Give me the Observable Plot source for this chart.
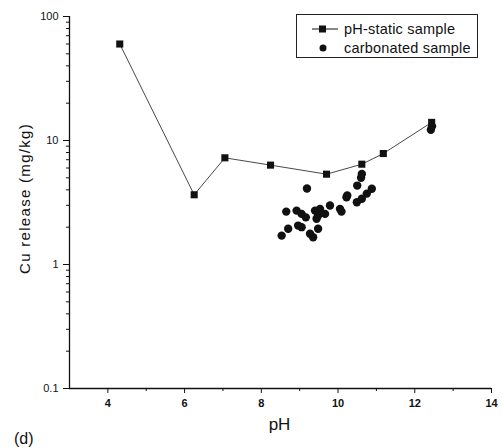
<!DOCTYPE html>
<html>
<head>
<meta charset="utf-8">
<script src="https://cdn.jsdelivr.net/npm/d3@7"></script>
<script src="https://cdn.jsdelivr.net/npm/@observablehq/plot@0.6"></script>
<style>
  html, body { margin: 0; padding: 0; background: #fff; }
  #wrap { position: relative; width: 502px; height: 448px; font-family: "Liberation Sans", Arial, sans-serif; }
  #legend { position: absolute; left: 296px; top: 14px; width: 182px; height: 44px; border: 1px solid #222; box-sizing: border-box; font-size: 14.5px; letter-spacing: 0.2px; color: #111; }
  #legend .row { position: absolute; left: 0; height: 16px; display: flex; align-items: center; }
  #legend svg { display: block; }
  #tag { position: absolute; left: 14px; top: 430px; font-size: 16px; color: #111; }
</style>
</head>
<body>
<div id="wrap">
  <div id="chart"></div>
  <div id="legend">
    <div class="row" style="top:6px;"><svg width="47" height="16"><line x1="15" x2="41" y1="8" y2="8" stroke="#111" stroke-width="1"/><rect x="22" y="4.5" width="7" height="7" fill="#111"/></svg><span>pH-static sample</span></div>
    <div class="row" style="top:25px;"><svg width="47" height="16"><circle cx="26" cy="8" r="3.5" fill="#111"/></svg><span>carbonated sample</span></div>
  </div>
  <div id="tag">(d)</div>
</div>
<script>
const staticPH = [4.31, 6.25, 7.05, 8.24, 9.70, 10.62, 11.18, 12.44];
const staticCu = [60, 3.65, 7.25, 6.33, 5.35, 6.44, 7.85, 14.0];

const carbPH = [9.19, 8.65, 8.92, 9.05, 9.16, 9.40, 9.48, 9.53, 9.44, 9.66, 9.79, 10.05, 10.09, 10.22,
                8.70, 8.53, 8.96, 9.05, 9.48, 9.27, 9.35,
                10.62, 10.60, 10.50, 10.24, 10.88, 10.75, 10.62, 10.49, 12.45, 12.42];
const carbCu = [4.1, 2.67, 2.72, 2.56, 2.40, 2.72, 2.48, 2.81, 2.34, 2.56, 2.99, 2.81, 2.67, 3.49,
                1.94, 1.71, 2.06, 2.0, 1.94, 1.77, 1.66,
                5.38, 5.0, 4.33, 3.6, 4.08, 3.73, 3.39, 3.18, 13.0, 12.2];

const yMajor = [0.1, 1, 10, 100];
const yMajorLabels = ["0.1", "1", "10", "100"];
const yMinor = [0.2,0.3,0.4,0.5,0.6,0.7,0.8,0.9, 2,3,4,5,6,7,8,9, 20,30,40,50,60,70,80,90];
const xMajor = [4, 6, 8, 10, 12, 14];
const xMinor = [5, 7, 9, 11, 13];

const staticData = staticPH.map((x, i) => ({pH: x, cu: staticCu[i]}));
const carbData = carbPH.map((x, i) => ({pH: x, cu: carbCu[i]}));

const chart = Plot.plot({
  width: 502,
  height: 448,
  marginLeft: 69,
  marginRight: 11,
  marginTop: 16,
  marginBottom: 60,
  style: {fontFamily: "Liberation Sans, Arial, sans-serif", color: "#111", background: "#fff"},
  x: {domain: [3, 14]},
  y: {type: "log", domain: [0.1, 100]},
  marks: [
    Plot.axisY({ticks: yMajor, tickSize: 6, tickPadding: 5, tickFormat: (d) => yMajorLabels[yMajor.indexOf(d)], fontSize: 11, label: null}),
    Plot.axisY({ticks: yMinor, tickSize: 3, text: null, label: null}),
    Plot.axisX({ticks: xMajor, tickSize: 5, tickPadding: 6, fontSize: 11, fontWeight: "bold", label: null}),
    Plot.axisX({ticks: xMinor, tickSize: 3, text: null, label: null}),
    Plot.ruleX([3], {stroke: "#111", strokeWidth: 1.3}),
    Plot.ruleY([0.1], {stroke: "#111", strokeWidth: 1.5}),
    Plot.line(staticData, {x: "pH", y: "cu", stroke: "#333", strokeWidth: 0.9}),
    Plot.dot(staticData, {x: "pH", y: "cu", symbol: "square", r: 4, fill: "#111", stroke: "none"}),
    Plot.dot(carbData, {x: "pH", y: "cu", r: 4.2, fill: "#111", stroke: "none"}),
    Plot.text(["pH"], {frameAnchor: "bottom", dy: 41, dx: -1, fontSize: 17, fill: "#111"}),
    Plot.text(["Cu release (mg/kg)"], {frameAnchor: "left", textAnchor: "middle", dx: -44, dy: -4, rotate: -90, fontSize: 15, fill: "#111"})
  ]
});
d3.select(chart).selectAll("text").filter(function() { return this.textContent === "Cu release (mg/kg)"; })
  .style("letter-spacing", "1.3px");
document.getElementById("chart").append(chart);
</script>
</body>
</html>
